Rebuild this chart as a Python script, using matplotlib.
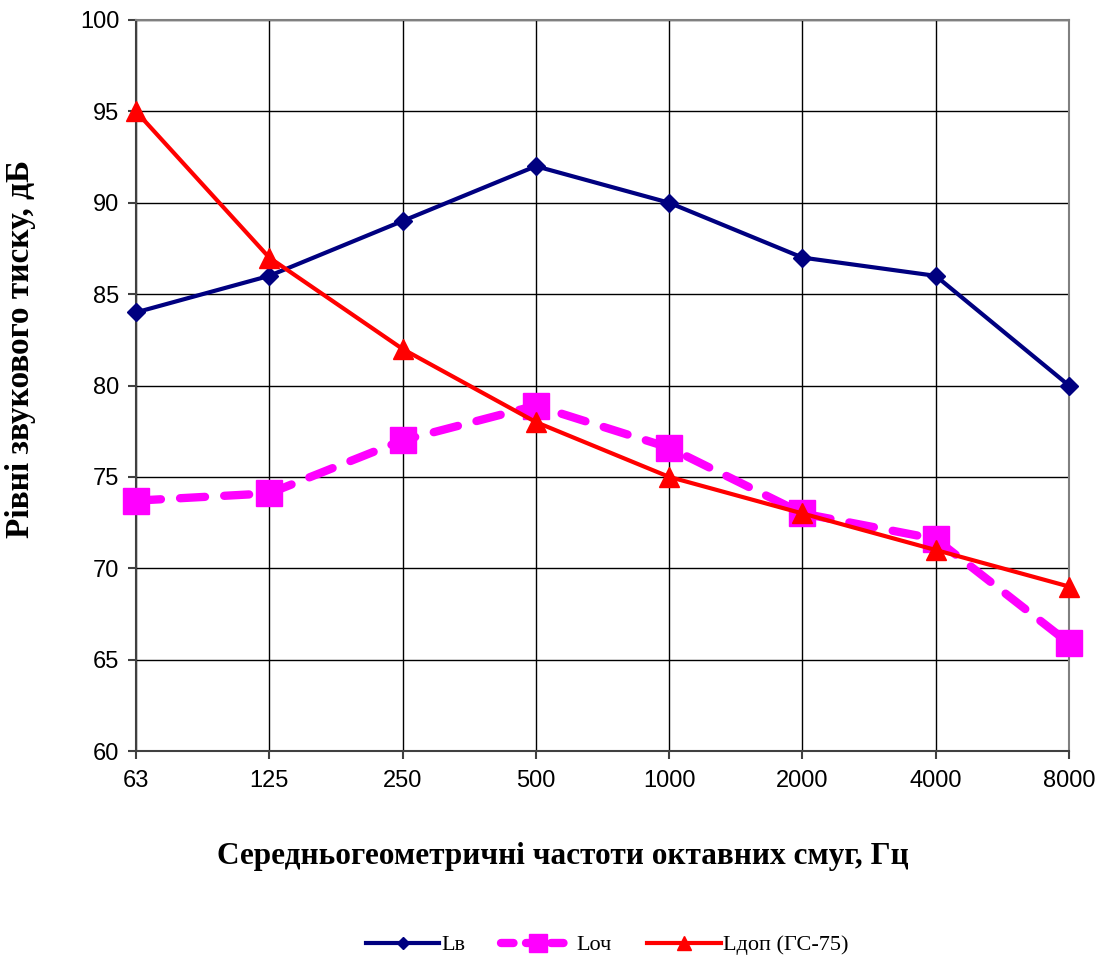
import matplotlib.pyplot as plt

# octave band centre frequencies
freqs = ["63", "125", "250", "500", "1000", "2000", "4000", "8000"]
L_v = [84, 86, 89, 92, 90, 87, 86, 80]
L_och = [73.7, 74.1, 77.0, 78.9, 76.6, 73.0, 71.6, 65.9]
L_dop = [95, 87, 82, 78, 75, 73, 71, 69]

fig = plt.figure(figsize=(11, 9.61), dpi=100)
ax = fig.add_axes([0.1236, 0.2185, 0.8482, 0.7607])

x = list(range(len(freqs)))
ax.plot(x, L_v, color="#000080", lw=3, marker="D", ms=9, label="Lв", zorder=3, clip_on=False)
ax.plot(x, L_och, color="#FF00FF", lw=6, ls=(0, (3, 2.3)), dash_capstyle="round",
        marker="s", ms=19, label="Lоч", zorder=4, clip_on=False)
ax.plot(x, L_dop, color="#FF0000", lw=3, marker="^", ms=14, label="Lдоп (ГС-75)", zorder=5,
        clip_on=False)

ax.set_xlim(0, len(freqs) - 1)
ax.set_ylim(60, 100)
ax.set_xticks(x)
ax.set_xticklabels(freqs)
ax.set_yticks(range(60, 101, 5))
ax.grid(True, color="black", lw=1)
ax.set_axisbelow(True)
for s in ["top", "right"]:
    ax.spines[s].set_color("#808080")
    ax.spines[s].set_linewidth(1.5)
for s in ["left", "bottom"]:
    ax.spines[s].set_color("#404040")
    ax.spines[s].set_linewidth(1.5)
ax.tick_params(axis="both", labelsize=17, direction="out", length=6, color="#404040", width=1.5)
for lab in ax.get_xticklabels() + ax.get_yticklabels():
    lab.set_family("Liberation Sans")
ax.tick_params(axis="x", pad=8)
ax.tick_params(axis="y", pad=6)

ax.set_ylabel("Рівні звукового тиску, дБ", family="Liberation Serif",
              fontweight="bold", fontsize=24)
ax.yaxis.set_label_coords(-0.107, 0.55)
ax.set_xlabel("Середньогеометричні частоти октавних смуг, Гц", family="Liberation Serif",
              fontweight="bold", fontsize=22.5)
ax.xaxis.set_label_coords(0.457, -0.124)

leg = fig.legend(loc="center", bbox_to_anchor=(0.552, 1 - 945 / 961), ncol=3, frameon=False,
                 prop={"family": "Liberation Serif", "size": 16}, handlelength=3.3,
                 columnspacing=1.6, handletextpad=0.1, markerscale=0.7)
# shorter dashes so the pattern shows in the short legend handle
leg.get_lines()[1].set_linestyle((0, (1.5, 1.5)))

fig.savefig("out.png", dpi=100)
